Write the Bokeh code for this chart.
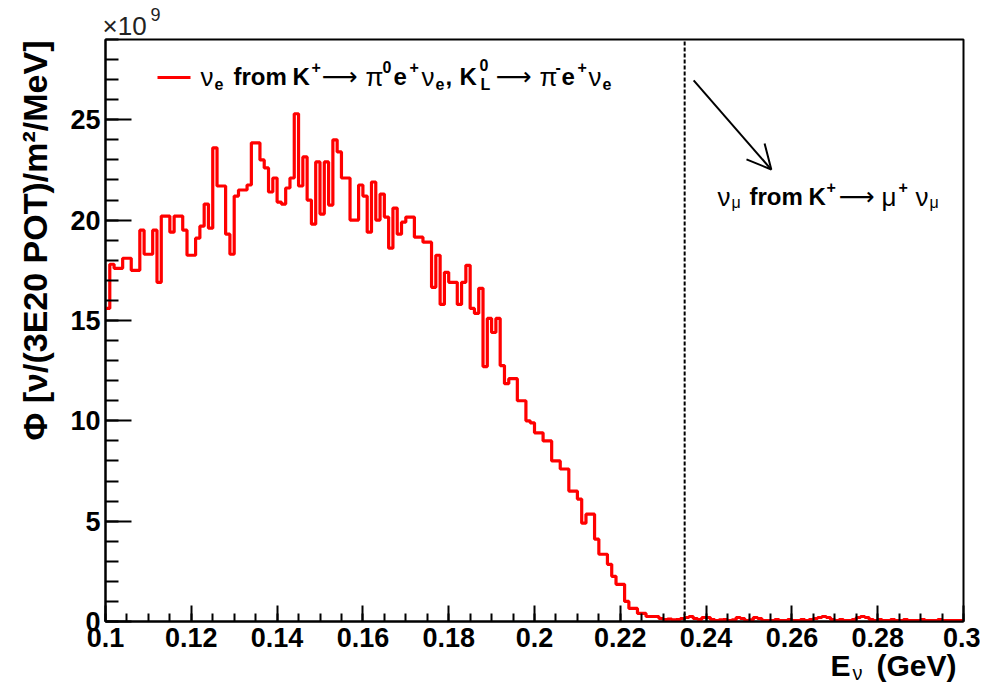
import math
from bokeh.plotting import figure
from bokeh.models import FixedTicker, Label, Arrow, OpenHead, Range1d, LinearAxis
from bokeh.embed import file_html
from bokeh.resources import INLINE

# ---------------- data ----------------
bin_start = 0.100   # GeV, left edge of first bin
bin_width = 0.001   # GeV
flux_e9 = [
    15.6, 17.8, 17.6, 17.6, 18.1, 18.1, 17.5, 17.5, 19.5, 18.3,
    18.3, 19.5, 16.9, 20.2, 20.2, 19.4, 20.2, 20.2, 19.5, 18.25,
    18.25, 19.1, 19.7, 20.8, 19.6, 23.6, 21.7, 21.7, 19.3, 18.3,
    21.2, 21.5, 21.5, 21.75, 23.85, 23.85, 23.0, 22.6, 21.4, 22.1,
    20.9, 20.8, 21.6, 22.1, 25.3, 21.7, 23.15, 21.0, 19.8, 22.9,
    20.3, 22.9, 20.75, 24.0, 23.4, 22.1, 22.1, 20.0, 20.0, 21.75,
    21.2, 19.4, 21.9, 20.0, 21.3, 20.15, 18.6, 20.6, 19.3, 19.9,
    20.15, 20.15, 19.15, 19.15, 18.9, 18.9, 16.65, 18.25, 15.8, 17.4,
    16.9, 16.9, 15.8, 16.9, 17.75, 15.6, 15.35, 16.6, 12.7, 15.1,
    14.4, 15.1, 12.75, 11.85, 12.1, 12.1, 11.0, 11.0, 10.0, 9.9,
    9.4, 9.4, 9.0, 9.0, 8.0, 8.0, 7.6, 7.6, 6.5, 6.5,
    6.1, 4.9, 5.35, 5.35, 4.1, 3.35, 3.35, 2.85, 2.25, 1.85,
    1.85, 1.0, 0.65, 0.65, 0.4, 0.4, 0.25, 0.25, 0.25, 0.15,
    0.1, 0.12, 0.08, 0.1, 0.15, 0.2, 0.25, 0.15, 0.1, 0.2,
    0.2, 0.1, 0.05, 0.08, 0.1, 0.05, 0.08, 0.2, 0.15, 0.05,
    0.08, 0.2, 0.15, 0.05, 0.05, 0.05, 0.1, 0.05, 0.05, 0.1,
    0.05, 0.05, 0.1, 0.05, 0.1, 0.15, 0.2, 0.25, 0.2, 0.1,
    0.05, 0.1, 0.05, 0.05, 0.1, 0.2, 0.25, 0.2, 0.1, 0.05,
    0.1, 0.05, 0.05, 0.1, 0.05, 0.05, 0.1, 0.05, 0.05, 0.05,
    0.1, 0.05, 0.05, 0.05, 0.1, 0.05, 0.05, 0.05, 0.05, 0.05,
]
x_ticks = [0.1, 0.12, 0.14, 0.16, 0.18, 0.2, 0.22, 0.24, 0.26, 0.28, 0.3]
x_tick_labels = ["0.1", "0.12", "0.14", "0.16", "0.18", "0.2", "0.22",
                 "0.24", "0.26", "0.28", "0.3"]
x_minor_step = 0.005
y_ticks = [0, 5, 10, 15, 20, 25]
y_minor_step = 1
numu_cut_energy = 0.235          # GeV, dashed line
arrow_from = (0.2371, 26.96)
arrow_to = (0.2552, 22.52)

X_MIN, X_MAX = 0.1, 0.3
Y_MIN, Y_MAX = 0.0, 29.0

# ---------------- layout (canvas pixel -> data) ----------------
W, H = 980, 688
FRAME_X0, FRAME_X1 = 105, 963     # canvas px of x = 0.1 and 0.3
FRAME_Y0, FRAME_Y1 = 621, 39      # canvas px of y = 0 and 29
LABEL_FIX = 10                    # baseline correction of Label text, px

def dx(px):
    return X_MIN + (px - FRAME_X0) * (X_MAX - X_MIN) / (FRAME_X1 - FRAME_X0)

def dy(py):
    return Y_MIN + (FRAME_Y0 - py) * (Y_MAX - Y_MIN) / (FRAME_Y0 - FRAME_Y1)

FONT = "Liberation Sans"

p = figure(width=W, height=H,
           x_range=Range1d(dx(0), dx(W)), y_range=Range1d(dy(H), dy(0)),
           output_backend="svg", toolbar_location=None,
           x_axis_location=None, y_axis_location=None,
           min_border=0, title_location=None)
p.background_fill_color = "white"
p.border_fill_color = "white"
p.outline_line_color = None
p.grid.visible = False

x_minor = [round(X_MIN + x_minor_step * i, 4)
           for i in range(int(round((X_MAX - X_MIN) / x_minor_step)) + 1)]
y_minor = [y_minor_step * i for i in range(int(Y_MAX) + 1)]

xaxis = LinearAxis(fixed_location=Y_MIN, bounds=(X_MIN, X_MAX),
                   ticker=FixedTicker(ticks=x_ticks, minor_ticks=x_minor),
                   major_label_overrides=dict(zip(x_ticks, x_tick_labels)))
yaxis = LinearAxis(fixed_location=X_MIN, bounds=(Y_MIN, Y_MAX),
                   ticker=FixedTicker(ticks=y_ticks, minor_ticks=y_minor))
for ax in (xaxis, yaxis):
    ax.axis_line_width = 2
    ax.major_tick_line_width = 2
    ax.minor_tick_line_width = 2
    ax.major_tick_out = 0
    ax.minor_tick_out = 0
    ax.major_label_text_font = FONT
    ax.major_label_text_font_style = "bold"
    ax.major_label_text_font_size = "27px"
    ax.major_label_text_color = "black"
xaxis.major_tick_in = 16
xaxis.minor_tick_in = 8
xaxis.major_label_standoff = 6
yaxis.major_tick_in = 26
yaxis.minor_tick_in = 13
yaxis.major_label_standoff = 5

# frame box
p.quad(left=[X_MIN], right=[X_MAX], bottom=[Y_MIN], top=[Y_MAX],
       fill_color=None, line_color="black", line_width=2)

# histogram
edges = [bin_start + bin_width * i for i in range(len(flux_e9) + 1)]
p.step(x=edges, y=flux_e9 + [flux_e9[-1]], mode="after",
       line_color="red", line_width=3.2)

p.add_layout(xaxis, "below")
p.add_layout(yaxis, "left")

# dashed line and arrow
p.segment(x0=[numu_cut_energy], y0=[Y_MIN], x1=[numu_cut_energy], y1=[Y_MAX],
          line_color="black", line_dash="4 2", line_width=2)
p.add_layout(Arrow(end=OpenHead(size=24, line_width=2, line_color="black"),
                   x_start=arrow_from[0], y_start=arrow_from[1],
                   x_end=arrow_to[0], y_end=arrow_to[1],
                   line_width=2, line_color="black"))

# legend key line
p.line(x=[dx(157), dx(190)], y=[dy(77), dy(77)], line_color="red", line_width=3)

ARROW_CHAR = "\u27f6"

def run(px, py, text, size, style="bold", font=FONT, color="black", angle=0, align="left"):
    if angle == 0:
        py = py - LABEL_FIX
    else:
        px = px - LABEL_FIX
    p.add_layout(Label(x=dx(px), y=dy(py), text=text,
                       text_font=font, text_font_size=f"{size}px",
                       text_font_style=style, text_color=color,
                       text_baseline="alphabetic", text_align=align,
                       angle=angle))

# legend text
legend_runs = [
    (200, 86, "ν", 26, "normal"),
    (214, 93, "e", 16, "bold"),
    (233, 86, "from", 24, "bold"),
    (292, 86, "K", 24, "bold"),
    (311, 76, "+", 16, "bold"),
    (321, 86, ARROW_CHAR, 25, "normal"),
    (365, 86, "π", 26, "normal"),
    (382, 76, "0", 16, "bold"),
    (393, 86, "e", 24, "bold"),
    (409, 76, "+", 16, "bold"),
    (421, 86, "ν", 26, "normal"),
    (435, 93, "e", 16, "bold"),
    (445, 86, ",", 24, "bold"),
    (459, 86, "K", 24, "bold"),
    (479, 74, "0", 16, "bold"),
    (480, 94, "L", 16, "bold"),
    (495, 86, ARROW_CHAR, 25, "normal"),
    (539, 86, "π", 26, "normal"),
    (555, 76, "-", 16, "bold"),
    (561, 86, "e", 24, "bold"),
    (577, 76, "+", 16, "bold"),
    (588, 86, "ν", 26, "normal"),
    (602, 93, "e", 16, "bold"),
]
for r in legend_runs:
    font = "DejaVu Sans" if r[2] == ARROW_CHAR else FONT
    run(r[0], r[1], r[2], r[3], r[4], font=font)

# arrow annotation text
numu_runs = [
    (717, 206, "ν", 26, "normal"),
    (731, 212, "μ", 16, "normal"),
    (749, 206, "from", 24, "bold"),
    (808, 206, "K", 24, "bold"),
    (826, 196, "+", 16, "bold"),
    (838, 206, ARROW_CHAR, 25, "normal"),
    (881, 206, "μ", 26, "normal"),
    (898, 196, "+", 16, "bold"),
    (915, 206, "ν", 26, "normal"),
    (929, 212, "μ", 16, "normal"),
]
for r in numu_runs:
    font = "DejaVu Sans" if r[2] == ARROW_CHAR else FONT
    run(r[0], r[1], r[2], r[3], r[4], font=font)

# axis titles
run(830, 675, "E", 30, "bold")
run(852, 682, "ν", 20, "normal")
run(876, 675, "(GeV)", 30, "bold")
run(44, 40, "Φ [ν/(3E20 POT)/m²/MeV]", 34, "bold", angle=math.pi / 2, align="right")
run(102, 35, "×10", 26, "normal", color="#222222")
run(150, 24, "9", 18, "normal", color="#222222")

open("out.html", "w").write(file_html(p, INLINE, title="flux"))
